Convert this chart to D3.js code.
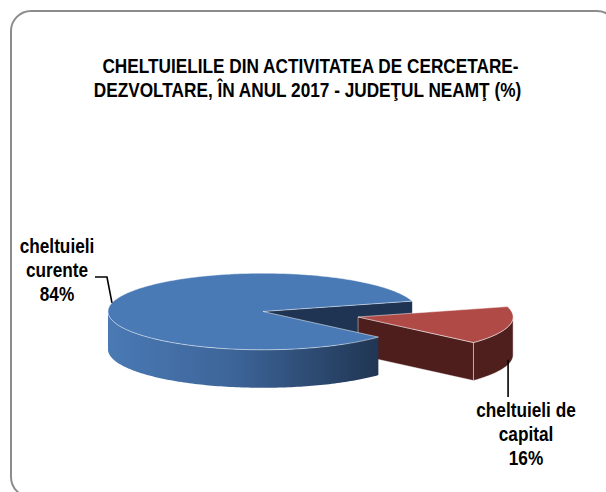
<!DOCTYPE html>
<html lang="ro">
<head>
<meta charset="UTF-8">
<title>Cheltuielile CD 2017 - Neamt</title>
<script src="https://d3js.org/d3.v7.min.js"></script>
<style>
    body { margin: 0; background: #fff; }
    text { font-family: "Liberation Sans", Arial, sans-serif; font-weight: bold; font-size: 21px; fill: #000; }
</style>
</head>
<body>
<script>
    // data
    var categories = ["cheltuieli curente", "cheltuieli de capital"];
    var values = [84, 16];
    var labelLines = [["cheltuieli", "curente", "84%"], ["cheltuieli de", "capital", "16%"]];
    var titleLines = ["CHELTUIELILE DIN ACTIVITATEA DE CERCETARE-", "DEZVOLTARE, ÎN ANUL 2017 - JUDEŢUL NEAMŢ (%)"];

    var w = 606, h = 492;
    var cx = 263, cy = 311.5, rx = 155, ry = 38.3, depth = 38;
    var explode = [0, 0.63];
    var topColors = ["#4a7ab6", "#b04a46"];
    var sideColors = ["url(#blueSide)", "#4f1f1e"];
    var cutColors = ["#1f3452", "#4e1e1d"];
    var narrow = 0.82; // Arial Narrow is 82% the width of Arial

    var svg = d3.select("body").append("svg")
        .attr("width", w)
        .attr("height", h);

    // chart frame (runs off the right/bottom edge like the original)
    svg.append("rect")
        .attr("x", 11).attr("y", 11)
        .attr("width", 606).attr("height", 486)
        .attr("rx", 20).attr("ry", 20)
        .attr("fill", "#fff")
        .attr("stroke", "#8c8c8c")
        .attr("stroke-width", 2);

    var grad = svg.append("defs").append("linearGradient")
        .attr("id", "blueSide")
        .attr("gradientUnits", "userSpaceOnUse")
        .attr("x1", cx - rx).attr("x2", cx + 120).attr("y1", 0).attr("y2", 0);
    grad.append("stop").attr("offset", "0%").attr("stop-color", "#4a79b4");
    grad.append("stop").attr("offset", "45%").attr("stop-color", "#3d6599");
    grad.append("stop").attr("offset", "100%").attr("stop-color", "#1f3451");

    // unit circle -> screen
    var sx = d3.scaleLinear().domain([-1, 1]).range([cx - rx, cx + rx]);
    var sy = d3.scaleLinear().domain([-1, 1]).range([cy - ry, cy + ry]);

    var startA = 131.9 * Math.PI / 180;
    var pie = d3.pie().sort(null).startAngle(startA).endAngle(startA + 2 * Math.PI);
    var arcs = pie(values);

    arcs.forEach(function(d, i) {
        var mid = (d.startAngle + d.endAngle) / 2;
        d.ox = explode[i] * Math.sin(mid);
        d.oy = -explode[i] * Math.cos(mid);
        d.mid = mid;
    });

    function pt(d, a, dz) {
        return [sx(d.ox + Math.sin(a)), sy(d.oy - Math.cos(a)) + (dz || 0)];
    }
    function center(d, dz) {
        return [sx(d.ox), sy(d.oy) + (dz || 0)];
    }
    function arcPts(d, a0, a1, dz) {
        var n = Math.max(2, Math.ceil(Math.abs(a1 - a0) / 0.02));
        return d3.range(n + 1).map(function(k) { return pt(d, a0 + (a1 - a0) * k / n, dz); });
    }
    var line = d3.line();

    function topPath(d) {
        return line([center(d)].concat(arcPts(d, d.startAngle, d.endAngle))) + "Z";
    }
    function sidePaths(d) {
        var out = [];
        [0, 1].forEach(function(k) {
            var lo = Math.max(d.startAngle, Math.PI / 2 + 2 * Math.PI * k);
            var hi = Math.min(d.endAngle, 1.5 * Math.PI + 2 * Math.PI * k);
            if (hi > lo) {
                out.push(line(arcPts(d, lo, hi).concat(arcPts(d, hi, lo, depth))) + "Z");
            }
        });
        return out;
    }
    function cutPath(d, a) {
        return line([center(d), pt(d, a), pt(d, a, depth), center(d, depth)]) + "Z";
    }
    function cutFaces(d) {
        var f = [];
        if (Math.sin(d.startAngle) < 0) f.push(cutPath(d, d.startAngle));
        if (Math.sin(d.endAngle) > 0) f.push(cutPath(d, d.endAngle));
        return f;
    }

    var g = svg.append("g");
    var edge = "rgba(255,255,255,0.55)";

    function drawCuts(d, i) {
        cutFaces(d).forEach(function(p) {
            g.append("path").attr("d", p).attr("fill", cutColors[i])
                .attr("stroke", i === 1 ? edge : "none").attr("stroke-width", 0.8);
        });
    }
    function drawSide(d, i) {
        sidePaths(d).forEach(function(p) {
            g.append("path").attr("d", p).attr("fill", sideColors[i])
                .attr("stroke", i === 1 ? edge : "none").attr("stroke-width", 0.8);
        });
    }
    function drawTop(d, i) {
        g.append("path").attr("d", topPath(d)).attr("fill", topColors[i])
            .attr("stroke", edge).attr("stroke-width", 0.9);
    }

    // painter's order
    drawCuts(arcs[0], 0);
    drawCuts(arcs[1], 1);
    drawSide(arcs[1], 1);
    drawTop(arcs[1], 1);
    drawSide(arcs[0], 0);
    drawTop(arcs[0], 0);

    // leader lines
    var rimL = pt(arcs[0], 283 * Math.PI / 180);
    svg.append("path")
        .attr("d", line([[95, 277], [rimL[0] - 5, 277], rimL]))
        .attr("fill", "none").attr("stroke", "#000").attr("stroke-width", 1.6);
    var rimR = pt(arcs[1], arcs[1].mid, depth);
    svg.append("path")
        .attr("d", line([[rimR[0] - 1, rimR[1] - 4], [rimR[0] - 1, 397]]))
        .attr("fill", "none").attr("stroke", "#000").attr("stroke-width", 1.6);

    // multi-line narrow text block centred on x
    function textBlock(lines, xs, y0, dy) {
        lines.forEach(function(s, k) {
            svg.append("text")
                .attr("text-anchor", "middle")
                .attr("transform", "translate(" + xs[k] + "," + (y0 + k * dy) + ") scale(" + narrow + ",1)")
                .text(s);
        });
    }

    // labels
    var labelPos = [{x: 57, y: 253}, {x: 526, y: 417}];
    labelLines.forEach(function(lines, i) {
        textBlock(lines, lines.map(function() { return labelPos[i].x; }), labelPos[i].y, 24.2);
    });

    // title
    textBlock(titleLines, [310.5, 307.5], 73.3, 23.4);
</script>
</body>
</html>
